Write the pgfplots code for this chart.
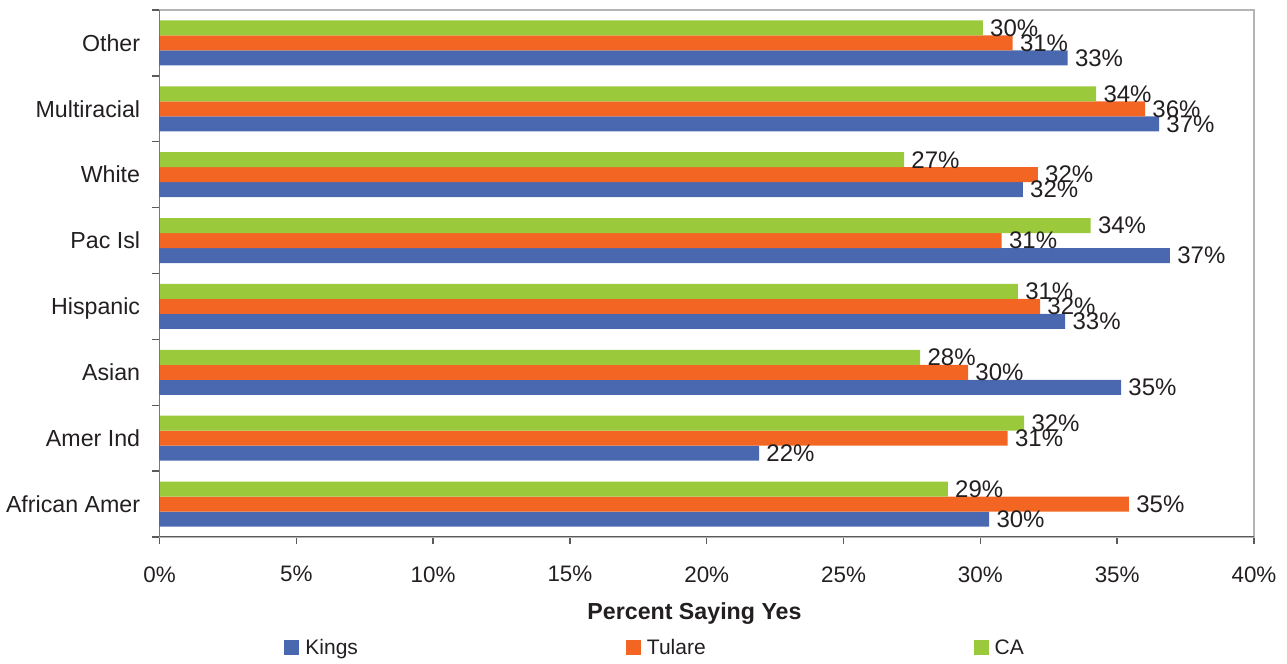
\documentclass[border=0pt]{standalone}
\usepackage{fontspec}
\setmainfont{Liberation Sans}
\usepackage{pgfplots}
\usepackage{pgfplotstable}
\pgfplotsset{compat=1.18}

\definecolor{kings}{HTML}{4A68B0}
\definecolor{tulare}{HTML}{F36523}
\definecolor{ca}{HTML}{9ACA3C}
\definecolor{ink}{HTML}{231F20}
\definecolor{axisdark}{HTML}{5A5A5A}
\definecolor{bordergray}{HTML}{B4B4B4}

% share answering "yes", by group (percent)
\pgfplotstableread{
pos kings tulare ca
0 30.32 35.43 28.81
1 21.91 31.00 31.60
2 35.14 29.55 27.80
3 33.10 32.18 31.37
4 36.93 30.78 34.03
5 31.55 32.10 27.21
6 36.53 36.02 34.23
7 33.19 31.18 30.09
}\ratesbygroup

\begin{document}
\begin{tikzpicture}
\path[use as bounding box] (-79.75pt,-63.5pt) rectangle (563.75pt,268.5pt);
\begin{axis}[
  at={(0pt,0pt)}, anchor=south west,
  scale only axis, width=547.25pt, height=263.5pt,
  xmin=0, xmax=40, ymin=-0.5, ymax=7.5,
  axis line style={draw=bordergray, line width=0.7pt},
  tick align=outside, xtick pos=bottom, ytick pos=left,
  major tick length=3.5pt,
  tick style={draw=axisdark, line width=0.7pt},
  xtick={0,5,...,40},
  xticklabel={\pgfmathprintnumber{\tick}\%},
  /pgf/number format/assume math mode=true,
  xticklabel style={font=\fontsize{11.2}{13}\selectfont, text=ink, anchor=north, inner sep=0pt, yshift=-11pt},
  ytick={-0.5,0.5,...,7.5}, yticklabel={\phantom{0}},
  extra y ticks={0,1,...,7},
  extra y tick labels={African Amer,Amer Ind,Asian,Hispanic,Pac Isl,White,Multiracial,Other},
  extra y tick style={major tick length=0pt,
    yticklabel style={font=\fontsize{11.6}{13}\selectfont, text=ink, anchor=base east, inner sep=0pt, xshift=-9.5pt, yshift=-4.15pt}},
  xlabel={\bfseries Percent Saying Yes},
  xlabel style={at={(axis description cs:0.4888,-0.1575)}, anchor=base, inner sep=0pt, font=\fontsize{11.6}{13}\selectfont, text=ink},
  bar width=7.5pt,
  point meta=x,
  nodes near coords={\pgfmathprintnumber[fixed,precision=0]{\pgfplotspointmeta}\%},
  nodes near coords style={font=\fontsize{12}{14}\selectfont, text=ink, anchor=west, inner sep=0pt, xshift=3.5pt},
  legend columns=3,
  legend image code/.code={\fill[#1] (0pt,0pt) rectangle (7.5pt,7.5pt);},
  legend style={draw=none, fill=none, at={(axis description cs:0.1138,-0.2116)}, anchor=west,
    inner sep=0pt, font=\fontsize{10.5}{12}\selectfont, text=ink,
    nodes={anchor=base west, inner sep=0pt},
    /tikz/every odd column/.append style={column sep=3pt},
    /tikz/every even column/.append style={column sep=134pt}},
]
\addplot[xbar, fill=kings, draw=none, bar shift=-7.5pt,
  every node near coord/.append style={yshift=-7.5pt}] table[x=kings, y=pos] {\ratesbygroup};
\addplot[xbar, fill=tulare, draw=none, bar shift=0pt] table[x=tulare, y=pos] {\ratesbygroup};
\addplot[xbar, fill=ca, draw=none, bar shift=7.5pt,
  every node near coord/.append style={yshift=7.5pt}] table[x=ca, y=pos] {\ratesbygroup};
\legend{Kings,Tulare,CA}
\draw[axisdark, line width=1pt] (rel axis cs:0,1) -- (rel axis cs:0,0) -- (rel axis cs:1,0);
\end{axis}
\end{tikzpicture}
\end{document}
